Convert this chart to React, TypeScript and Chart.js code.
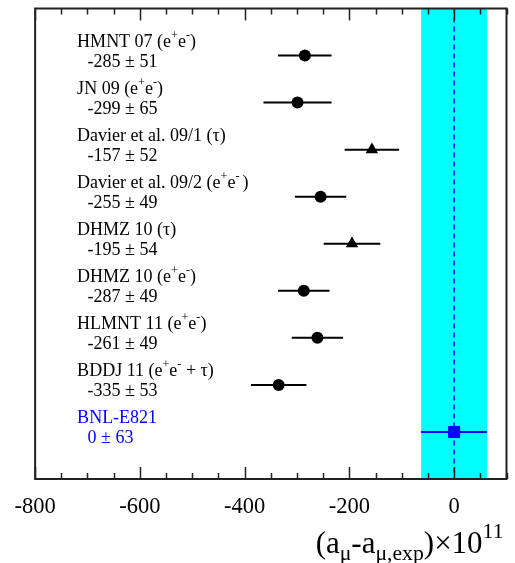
import React, { useEffect, useRef } from "react";
import { Chart, registerables } from "chart.js";

Chart.register(...registerables);

const names = [
  "HMNT 07 (e^{+}e^{-})",
  "JN 09 (e^{+}e^{-})",
  "Davier et al. 09/1 (τ)",
  "Davier et al. 09/2 (e^{+}e^{- })",
  "DHMZ 10 (τ)",
  "DHMZ 10 (e^{+}e^{-})",
  "HLMNT 11 (e^{+}e^{-})",
  "BDDJ 11 (e^{+}e^{-} + τ)",
  "BNL-E821",
];
const centrals = [-285, -299, -157, -255, -195, -287, -261, -335, 0];
const errors = [51, 65, 52, 49, 54, 49, 49, 53, 63];
const markers = ["circle", "circle", "triangle", "circle", "triangle", "circle", "circle", "circle", "rect"];
const colors = ["#000", "#000", "#000", "#000", "#000", "#000", "#000", "#000", "#0000ff"];
const xTickValues = [-800, -600, -400, -200, 0];
const xMinorStep = 50;
const xTitle = "(a_{μ}-a_{μ,exp})×10^{11}";

const FONT = '"Liberation Serif", "Times New Roman", serif';

function parseRich(s: string) {
  const parts = s.split(/(\^\{[^}]*\}|_\{[^}]*\})/);
  const segs: { t: string; k: string }[] = [];
  for (const p of parts) {
    if (!p) continue;
    if (p.startsWith("^{")) segs.push({ t: p.slice(2, -1), k: "sup" });
    else if (p.startsWith("_{")) segs.push({ t: p.slice(2, -1), k: "sub" });
    else segs.push({ t: p, k: "n" });
  }
  return segs;
}

function drawRich(
  ctx: CanvasRenderingContext2D,
  text: string,
  x: number,
  y: number,
  size: number,
  color: string,
  align = "left",
  ratio = 0.68,
  supOff = 0.42,
  subOff = 0.28
) {
  const segs = parseRich(text);
  const small = size * ratio;
  let total = 0;
  const widths: number[] = [];
  for (const s of segs) {
    ctx.font = `${s.k === "n" ? size : small}px ${FONT}`;
    const w = ctx.measureText(s.t).width;
    widths.push(w);
    total += w;
  }
  let cx = align === "right" ? x - total : x;
  ctx.save();
  ctx.fillStyle = color;
  ctx.textBaseline = "alphabetic";
  ctx.textAlign = "left";
  segs.forEach((s, i) => {
    ctx.font = `${s.k === "n" ? size : small}px ${FONT}`;
    const dy = s.k === "sup" ? -size * supOff : s.k === "sub" ? size * subOff : 0;
    ctx.fillText(s.t, cx, y + dy);
    cx += widths[i];
  });
  ctx.restore();
}

const customPlugin = {
  id: "custom",
  beforeDatasetsDraw(chart: any) {
    const { ctx, chartArea } = chart;
    const xs = chart.scales.x;
    const b = centrals.length - 1;
    const x1 = xs.getPixelForValue(centrals[b] - errors[b]);
    const x2 = xs.getPixelForValue(centrals[b] + errors[b]);
    ctx.save();
    ctx.fillStyle = "#00ffff";
    ctx.fillRect(x1, chartArea.top, x2 - x1, chartArea.bottom - chartArea.top);
    ctx.restore();
  },
  afterDraw(chart: any) {
    const { ctx, chartArea } = chart;
    const xs = chart.scales.x;
    const ys = chart.scales.y;
    ctx.save();
    ctx.strokeStyle = "#222";
    ctx.lineWidth = 1.5;
    for (let v = xs.min; v <= xs.max + 1e-6; v += xMinorStep) {
      const px = Math.round(xs.getPixelForValue(v)) + 0.5;
      const major = xTickValues.includes(v);
      const len = major ? 12 : 6;
      ctx.beginPath();
      ctx.moveTo(px, chartArea.bottom);
      ctx.lineTo(px, chartArea.bottom - len);
      ctx.moveTo(px, chartArea.top);
      ctx.lineTo(px, chartArea.top + len);
      ctx.stroke();
    }
    ctx.lineWidth = 2;
    ctx.strokeRect(chartArea.left, chartArea.top, chartArea.right - chartArea.left, chartArea.bottom - chartArea.top);
    ctx.restore();
    const size = 18;
    names.forEach((n, i) => {
      const py = ys.getPixelForValue(i + 1);
      drawRich(ctx, n, chartArea.left + 42, py - 9, size, colors[i]);
      drawRich(ctx, `${centrals[i]} ± ${errors[i]}`, chartArea.left + 52.5, py + 11, size, colors[i]);
    });
    drawRich(ctx, xTitle, chartArea.right - 3, chartArea.bottom + 74, 31, "#000", "right", 0.7, 0.48, 0.22);
  },
};

export default function App() {
  const ref = useRef<HTMLCanvasElement>(null);
  useEffect(() => {
    const canvas = ref.current!;
    const errorSets = centrals.map((c, i) => ({
      type: "scatter" as const,
      data: [
        { x: c - errors[i], y: i + 1 },
        { x: c + errors[i], y: i + 1 },
      ],
      showLine: true,
      borderColor: colors[i],
      borderWidth: 2,
      pointRadius: 0,
      order: 2,
    }));
    const chart = new Chart(canvas, {
      type: "scatter",
      data: {
        datasets: [
          {
            data: centrals.map((c, i) => ({ x: c, y: i + 1 })),
            pointStyle: markers as any,
            pointRadius: markers.map((m) => (m === "rect" ? 8.5 : m === "triangle" ? 7.2 : 6)),
            backgroundColor: colors,
            borderColor: colors,
            borderWidth: 0,
            order: 1,
          },
          ...errorSets,
          {
            data: [
              { x: centrals[centrals.length - 1], y: 0 },
              { x: centrals[centrals.length - 1], y: 10 },
            ],
            showLine: true,
            borderColor: "#0000ff",
            borderWidth: 1.5,
            borderDash: [5, 4],
            pointRadius: 0,
            order: 3,
          },
        ] as any,
      },
      options: {
        responsive: false,
        animation: false,
        events: [],
        layout: { padding: { left: 35, top: 8, right: 8, bottom: 0 } },
        plugins: { legend: { display: false }, tooltip: { enabled: false } },
        scales: {
          x: {
            type: "linear",
            min: -800,
            max: 100,
            afterBuildTicks: (scale: any) => {
              scale.ticks = xTickValues.map((v) => ({ value: v }));
            },
            afterFit: (scale: any) => {
              scale.height = 84;
            },
            grid: { display: false, drawTicks: false },
            border: { display: false },
            ticks: {
              color: "#000",
              font: { family: FONT, size: 22.5 },
              padding: 14.5,
              maxRotation: 0,
              autoSkip: false,
            },
          },
          y: {
            type: "linear",
            min: 0,
            max: 10,
            reverse: true,
            display: false,
          },
        },
      },
      plugins: [customPlugin],
    });
    return () => chart.destroy();
  }, []);
  return (
    <div style={{ position: "fixed", left: 0, top: 0, width: 515, height: 563, background: "#fff" }}>
      <canvas ref={ref} width={515} height={563} />
    </div>
  );
}
